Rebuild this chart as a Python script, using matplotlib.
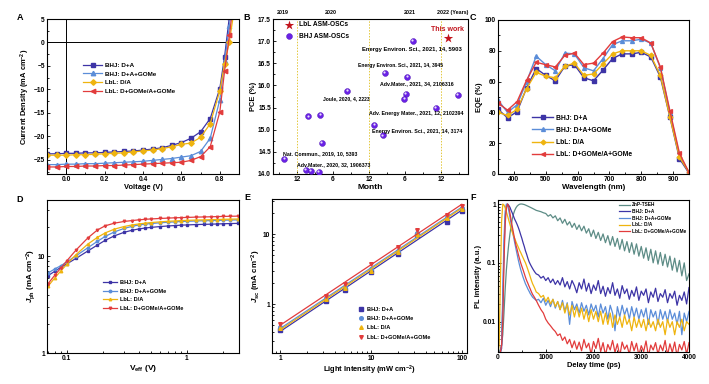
import numpy as np
import matplotlib
matplotlib.use('Agg')
import matplotlib.pyplot as plt
from matplotlib.ticker import MultipleLocator, NullFormatter
import matplotlib.transforms as mtransforms

plt.rcParams['font.family'] = ['Liberation Sans', 'DejaVu Sans']
plt.rcParams['font.weight'] = 'bold'
plt.rcParams['axes.labelweight'] = 'bold'
plt.rcParams['mathtext.fontset'] = 'custom'
plt.rcParams['mathtext.rm'] = 'Liberation Sans:bold'
plt.rcParams['mathtext.it'] = 'Liberation Sans:italic:bold'
plt.rcParams['mathtext.bf'] = 'Liberation Sans:bold'
plt.rcParams['axes.linewidth'] = 0.8

# ---------------- data ----------------
labels4 = ['BHJ: D+A', 'BHJ: D+A+GOMe', 'LbL: D/A', 'LbL: D+GOMe/A+GOMe']
C_PUR, C_BLU, C_YEL, C_RED, C_TEAL = '#3d34a6', '#5b8dd8', '#efb40f', '#e23c3c', '#5d8c86'

# A: J-V
V_A = [-0.10, -0.05, 0.00, 0.05, 0.10, 0.15, 0.20, 0.25, 0.30, 0.35, 0.40, 0.45,
       0.50, 0.55, 0.60, 0.65, 0.70, 0.75, 0.80, 0.825, 0.85, 0.875]
J_bhj = [-23.7, -23.7, -23.6, -23.6, -23.5, -23.5, -23.4, -23.3, -23.2, -23.1, -22.9, -22.7,
         -22.4, -21.9, -21.3, -20.4, -19.0, -16.2, -9.8, -3.0, 5.5, 14.0]
J_bhj_g = [-26.0, -26.0, -25.9, -25.9, -25.8, -25.8, -25.7, -25.6, -25.5, -25.4, -25.3, -25.1,
           -24.9, -24.7, -24.4, -24.1, -23.2, -20.4, -12.2, -4.0, 3.5, 12.0]
J_lbl = [-24.0, -24.0, -24.0, -23.9, -23.9, -23.8, -23.7, -23.6, -23.5, -23.3, -23.1, -22.9,
         -22.6, -22.2, -21.7, -21.4, -20.2, -17.3, -10.3, -4.5, 0.2, 7.0]
J_lbl_g = [-26.5, -26.5, -26.4, -26.4, -26.3, -26.3, -26.2, -26.2, -26.1, -26.0, -25.9, -25.8,
           -25.7, -25.6, -25.5, -25.1, -24.3, -22.2, -14.8, -6.0, 1.5, 10.0]

# B: PCE vs month
month_bhj = [9.9, 13.5, 14.3, 15.6, 13.9, 15.9, 16.1, 20.4, 24.9, 26.3, 26.6, 30.4, 30.1, 29.9, 31.3, 35.2, 38.8]
pce_bhj = [14.34, 14.09, 14.07, 14.04, 15.30, 15.33, 14.70, 15.88, 15.10, 14.87, 16.28, 16.20, 15.80, 15.69, 17.00, 15.50, 15.78]
month_lbl = [37.2]
pce_lbl = [17.08]
refs = ['Energy Environ. Sci., 2021, 14, 5903', 'Energy Environ. Sci., 2021, 14, 3945',
        'Adv.Mater., 2021, 34, 2106316', 'Joule, 2020, 4, 2223',
        'Adv. Energy Mater., 2021, 12, 2102394', 'Energy Environ. Sci., 2021, 14, 3174',
        'Nat. Commun., 2019, 10, 5393', 'Adv.Mater., 2020, 32, 1906373']
ref_month = [31.2, 29.25, 32.05, 20.3, 31.9, 32.05, 15.85, 18.1]
ref_pce = [16.80, 16.44, 16.05, 15.71, 15.37, 14.97, 14.45, 14.21]
ref_size = [4.2, 3.6, 3.8, 3.6, 3.8, 3.8, 3.8, 3.8]
years = ['2019', '2020', '2021', '2022 (Years)']
year_month = [9.7, 17.7, 30.8, 35.4]

# C: EQE
wl = [350, 380, 410, 440, 470, 500, 530, 560, 590, 620, 650, 680, 710, 740, 770, 800, 830, 860, 890, 920, 950]
eqe_bhj = [42, 36.5, 40.5, 56, 68.5, 64, 60.5, 70, 71, 62.5, 60.5, 67.5, 75, 78, 78, 79, 76, 63, 37, 10, 0.5]
eqe_bhj_g = [48, 40, 45, 60, 76.5, 71, 67, 78.5, 78, 69, 67, 75, 84, 86.5, 86.5, 87.5, 85, 69, 40, 12, 1]
eqe_lbl = [40, 38, 42, 55.5, 66, 63.5, 62.5, 70, 72, 64, 65, 71.5, 78, 80, 80, 80, 77, 64, 37, 11, 1]
eqe_lbl_g = [46, 41.5, 47, 61, 72.5, 71, 69.5, 77, 78.5, 71, 72, 78.5, 86, 89, 88.5, 88.5, 85, 69.5, 41, 13.5, 1]

# D: Jph vs Veff
veff = [0.07, 0.08, 0.09, 0.1, 0.12, 0.15, 0.18, 0.21, 0.25, 0.3, 0.35, 0.4, 0.45, 0.5,
        0.6, 0.7, 0.8, 0.9, 1.0, 1.2, 1.4, 1.6, 1.8, 2.0, 2.3, 2.7]
jph_bhj = [6.3, 7.0, 7.7, 8.3, 9.5, 11.3, 13.0, 14.6, 16.2, 17.6, 18.5, 19.1, 19.5, 19.8,
           20.2, 20.5, 20.7, 20.9, 21.0, 21.2, 21.3, 21.4, 21.5, 21.6, 21.7, 21.8]
jph_bhj_g = [6.7, 7.4, 8.0, 8.7, 10.1, 12.2, 14.2, 16.0, 17.8, 19.3, 20.3, 21.0, 21.4, 21.7,
             22.1, 22.4, 22.6, 22.8, 22.9, 23.1, 23.2, 23.3, 23.4, 23.5, 23.6, 23.7]
jph_lbl = [4.9, 6.0, 7.1, 8.2, 10.4, 13.3, 15.6, 17.4, 19.0, 20.2, 21.0, 21.5, 21.9, 22.2,
           22.6, 22.9, 23.1, 23.3, 23.4, 23.6, 23.7, 23.8, 23.9, 24.0, 24.1, 24.2]
jph_lbl_g = [5.2, 6.4, 7.6, 8.9, 11.6, 15.4, 18.6, 20.6, 21.9, 22.8, 23.3, 23.7, 24.0, 24.2,
             24.5, 24.7, 24.9, 25.0, 25.1, 25.3, 25.4, 25.5, 25.6, 25.7, 25.8, 25.9]

# E: Jsc vs light intensity
P_light = [1, 3.2, 5.2, 10, 20, 32, 68, 100]
jsc_bhj = [0.42, 1.12, 1.58, 2.9, 5.2, 9.8, 15.2, 21.8]
jsc_bhj_g = [0.47, 1.22, 1.75, 3.15, 5.7, 10.6, 17.5, 23.8]
jsc_lbl = [0.45, 1.18, 1.68, 3.0, 5.5, 10.2, 17.0, 23.0]
jsc_lbl_g = [0.52, 1.32, 1.92, 3.7, 6.5, 11.6, 18.8, 25.8]

# F: TRPL
t_ps = np.r_[0:801:25, 850:4001:50]
pl_znp = [0.0032, 0.0030, 0.0034, 0.0040, 0.0060, 0.014, 0.035, 0.075,
          0.13, 0.21, 0.31, 0.43, 0.56, 0.68, 0.78, 0.86,
          0.92, 0.96, 0.99, 1.0, 1.0, 0.99, 0.98, 0.96,
          0.94, 0.92, 0.90, 0.88, 0.86, 0.84, 0.82, 0.80, 0.78,
          0.76, 0.74, 0.71, 0.69, 0.62, 0.66, 0.58, 0.63,
          0.52, 0.58, 0.47, 0.55, 0.44, 0.50, 0.40, 0.47,
          0.37, 0.44, 0.35, 0.42, 0.32, 0.38, 0.28, 0.36,
          0.26, 0.33, 0.24, 0.31, 0.22, 0.29, 0.20, 0.28,
          0.19, 0.26, 0.17, 0.25, 0.16, 0.23, 0.15, 0.22,
          0.14, 0.21, 0.13, 0.19, 0.12, 0.18, 0.11, 0.17,
          0.10, 0.16, 0.095, 0.15, 0.09, 0.14, 0.085, 0.13,
          0.075, 0.12, 0.07, 0.11, 0.06, 0.10, 0.05, 0.065]
pl_bhj = [0.003, 0.003, 0.003, 0.0035, 0.02, 0.15, 0.6, 0.92,
          1.0, 0.95, 0.88, 0.78, 0.70, 0.62, 0.55, 0.50,
          0.45, 0.40, 0.35, 0.30, 0.26, 0.22, 0.19, 0.16,
          0.14, 0.12, 0.105, 0.095, 0.087, 0.08, 0.074, 0.069, 0.065,
          0.062, 0.055, 0.059, 0.05, 0.056, 0.046, 0.053, 0.043,
          0.05, 0.042, 0.056, 0.039, 0.048, 0.036, 0.05, 0.041,
          0.031, 0.046, 0.036, 0.053, 0.033, 0.045, 0.03, 0.042,
          0.034, 0.05, 0.03, 0.04, 0.027, 0.038, 0.03, 0.046,
          0.028, 0.036, 0.025, 0.041, 0.03, 0.036, 0.024, 0.034,
          0.027, 0.039, 0.023, 0.033, 0.028, 0.036, 0.021, 0.032,
          0.026, 0.037, 0.022, 0.03, 0.026, 0.035, 0.021, 0.03,
          0.025, 0.033, 0.019, 0.028, 0.023, 0.032, 0.02, 0.038]
pl_bhj_g = [0.003, 0.003, 0.003, 0.004, 0.03, 0.25, 0.75, 1.0,
            0.95, 0.78, 0.6, 0.46, 0.36, 0.28, 0.22, 0.175,
            0.14, 0.112, 0.092, 0.077, 0.066, 0.057, 0.05, 0.044,
            0.04, 0.036, 0.033, 0.03, 0.028, 0.026, 0.025, 0.024, 0.023,
            0.024, 0.021, 0.025, 0.019, 0.023, 0.018, 0.024, 0.017,
            0.022, 0.016, 0.023, 0.015, 0.021, 0.009, 0.022, 0.016,
            0.02, 0.014, 0.021, 0.015, 0.019, 0.013, 0.02, 0.015,
            0.019, 0.012, 0.02, 0.014, 0.018, 0.011, 0.019, 0.014,
            0.007, 0.018, 0.012, 0.019, 0.013, 0.017, 0.011, 0.018,
            0.012, 0.017, 0.011, 0.016, 0.012, 0.017, 0.009, 0.016,
            0.012, 0.015, 0.009, 0.016, 0.011, 0.015, 0.01, 0.016,
            0.011, 0.014, 0.009, 0.015, 0.006, 0.014, 0.01, 0.015]
pl_lbl = [0.003, 0.004, 0.05, 0.5, 1.0, 0.96, 0.86, 0.74,
          0.63, 0.53, 0.45, 0.38, 0.33, 0.29, 0.26, 0.23,
          0.205, 0.185, 0.165, 0.15, 0.135, 0.122, 0.11, 0.1,
          0.088, 0.077, 0.067, 0.058, 0.05, 0.044, 0.04, 0.036, 0.032,
          0.03, 0.026, 0.028, 0.022, 0.026, 0.02, 0.024, 0.018,
          0.022, 0.016, 0.021, 0.014, 0.02, 0.013, 0.019, 0.012,
          0.018, 0.012, 0.017, 0.011, 0.016, 0.01, 0.016, 0.011,
          0.015, 0.01, 0.015, 0.009, 0.014, 0.009, 0.014, 0.008,
          0.013, 0.009, 0.012, 0.008, 0.013, 0.009, 0.011, 0.007,
          0.012, 0.008, 0.011, 0.008, 0.011, 0.007, 0.011, 0.008,
          0.01, 0.007, 0.011, 0.008, 0.01, 0.006, 0.011, 0.008,
          0.01, 0.006, 0.01, 0.008, 0.011, 0.007, 0.01, 0.009]
pl_lbl_g = [0.003, 0.003, 0.003, 0.004, 0.01, 0.1, 0.45, 0.85,
            1.0, 0.9, 0.7, 0.53, 0.41, 0.32, 0.25, 0.2,
            0.17, 0.14, 0.118, 0.1, 0.087, 0.076, 0.066, 0.057,
            0.05, 0.045, 0.04, 0.036, 0.032, 0.029, 0.027, 0.025, 0.023,
            0.019, 0.016, 0.014, 0.011, 0.0095, 0.0085, 0.0075, 0.0068,
            0.0058, 0.0062, 0.0048, 0.0055, 0.0042, 0.005, 0.0036, 0.0047,
            0.0034, 0.0045, 0.0032, 0.005, 0.0036, 0.0043, 0.0028, 0.0046,
            0.0035, 0.0052, 0.0031, 0.0044, 0.0027, 0.0041, 0.0033, 0.0048,
            0.003, 0.0042, 0.0026, 0.0045, 0.0034, 0.004, 0.0028, 0.0046,
            0.0032, 0.0043, 0.0027, 0.0039, 0.0031, 0.0047, 0.0026, 0.004,
            0.0033, 0.0044, 0.0028, 0.004, 0.0032, 0.0048, 0.0027, 0.0042,
            0.003, 0.0045, 0.0026, 0.0041, 0.0033, 0.0046, 0.0028, 0.0044]

# ---------------- figure ----------------
W, H = 709, 384
fig = plt.figure(figsize=(W / 100, H / 100), dpi=100)


def rect(x0, y0, x1, y1):
    return [x0 / W, 1 - y1 / H, (x1 - x0) / W, (y1 - y0) / H]


TICK = 4.8
LAB = 5.4


def style(ax):
    ax.tick_params(which='both', direction='in', labelsize=TICK, width=0.6, pad=1.5)
    ax.tick_params(which='major', length=2.2)
    ax.tick_params(which='minor', length=1.2)
    for s in ax.spines.values():
        s.set_linewidth(0.8)


def leg(ax, **kw):
    base = dict(frameon=False, borderpad=0, borderaxespad=0, prop={'weight': 'bold', 'size': 4.3})
    base.update(kw)
    return ax.legend(**base)


# ---- A ----
axA = fig.add_axes(rect(47, 19, 239, 174))
style(axA)
axA.axhline(0, color='k', lw=0.7)
axA.axvline(0, color='k', lw=0.7)
for J, c, m, ms, lab in [(J_bhj, C_PUR, 's', 3.0, labels4[0]), (J_bhj_g, C_BLU, '^', 3.2, labels4[1]),
                         (J_lbl, C_YEL, 'D', 2.8, labels4[2]), (J_lbl_g, C_RED, '<', 3.2, labels4[3])]:
    axA.plot(V_A, J, color=c, marker=m, ms=ms, lw=0.9, label=lab)
axA.set_xlim(-0.1, 0.9)
axA.set_ylim(-28, 5)
axA.xaxis.set_major_locator(MultipleLocator(0.2))
axA.xaxis.set_minor_locator(MultipleLocator(0.1))
axA.yaxis.set_major_locator(MultipleLocator(5))
axA.yaxis.set_minor_locator(MultipleLocator(2.5))
axA.xaxis.set_major_formatter(plt.FuncFormatter(lambda v, p: f'{v:.1f}'))
axA.set_xlabel('Voltage (V)', fontsize=LAB, labelpad=1)
axA.set_ylabel('Current Density (mA cm$^{-2}$)', fontsize=LAB, labelpad=1)
leg(axA, loc='upper left', bbox_to_anchor=(0.19, 0.72), handlelength=3.0, handletextpad=0.4,
    labelspacing=0.55, prop={'weight': 'bold', 'size': 4.5})

# ---- B ----
axB = fig.add_axes(rect(273, 19, 468, 174))
style(axB)
axB.set_xlim(8, 40.5)
axB.set_ylim(14.0, 17.5)
for mline in [12, 24, 36]:
    axB.axvline(mline, color='#e3c83c', lw=0.7, ls=(0, (1.5, 1.5)))
sc = axB.scatter(month_bhj, pce_bhj, s=18, color='#6a22e6', edgecolor='#4a10b0', linewidth=0.3,
                 zorder=3, label='BHJ ASM-OSCs')
hl = mtransforms.offset_copy(axB.transData, fig=fig, x=-0.6, y=0.6, units='points')
axB.scatter(month_bhj, pce_bhj, s=2.5, color='white', alpha=0.85, linewidth=0, zorder=4, transform=hl)
st = axB.scatter(month_lbl, pce_lbl, s=50, marker='*', color='#c2131c', linewidth=0, zorder=3,
                 label='LbL ASM-OSCs')
axB.text(37.1, 17.27, 'This work', color='#c2131c', fontsize=5.0, fontweight='bold', ha='center', va='center')
for r, mx, py, fs in zip(refs, ref_month, ref_pce, ref_size):
    axB.text(mx, py, r, fontsize=fs, fontweight='bold', ha='center', va='center', clip_on=False)
for y, mx in zip(years, year_month):
    axB.text(mx, 17.58, y, fontsize=3.9, fontweight='bold', ha='center' if 'Years' not in y else 'left',
             va='bottom')
axB.set_xticks([12, 18, 24, 30, 36])
axB.set_xticklabels(['12', '6', '12', '6', '12'])
axB.xaxis.set_minor_locator(MultipleLocator(3))
axB.yaxis.set_major_locator(MultipleLocator(0.5))
axB.yaxis.set_minor_locator(MultipleLocator(0.25))
axB.yaxis.set_major_formatter(plt.FuncFormatter(lambda v, p: f'{v:.1f}'))
axB.set_xlabel('Month', fontsize=LAB + 0.6, labelpad=0.5)
axB.set_ylabel('PCE (%)', fontsize=LAB, labelpad=1)
leg(axB, handles=[st, sc], loc='upper left', bbox_to_anchor=(0.05, 0.985), handletextpad=0.4,
    labelspacing=0.7, prop={'weight': 'bold', 'size': 4.8}, scatterpoints=1)

# ---- C ----
axC = fig.add_axes(rect(498, 20, 689, 174))
style(axC)
for E, c, m, ms, lab in [(eqe_bhj, C_PUR, 's', 2.6, labels4[0]), (eqe_bhj_g, C_BLU, '^', 2.8, labels4[1]),
                         (eqe_lbl, C_YEL, 'D', 2.4, labels4[2]), (eqe_lbl_g, C_RED, '<', 2.8, labels4[3])]:
    axC.plot(wl, E, color=c, marker=m, ms=ms, lw=1.0, label=lab)
axC.set_xlim(350, 950)
axC.set_ylim(0, 100)
axC.xaxis.set_major_locator(MultipleLocator(100))
axC.xaxis.set_minor_locator(MultipleLocator(50))
axC.yaxis.set_major_locator(MultipleLocator(20))
axC.yaxis.set_minor_locator(MultipleLocator(10))
axC.set_xlabel('Wavelength (nm)', fontsize=LAB + 0.3, labelpad=1)
axC.set_ylabel('EQE (%)', fontsize=LAB, labelpad=1)
leg(axC, loc='upper left', bbox_to_anchor=(0.18, 0.385), handlelength=3.0, handletextpad=0.4,
    labelspacing=0.75, prop={'weight': 'bold', 'size': 4.9})

# ---- D ----
axD = fig.add_axes(rect(47, 200, 239, 353))
style(axD)
for Jp, c, m, lab in [(jph_bhj, C_PUR, 's', labels4[0]), (jph_bhj_g, C_BLU, 'o', labels4[1]),
                      (jph_lbl, C_YEL, '^', labels4[2]), (jph_lbl_g, C_RED, 'v', labels4[3])]:
    axD.plot(veff, Jp, color=c, marker=m, ms=1.8, lw=0.9, label=lab)
axD.set_xscale('log')
axD.set_yscale('log')
axD.set_xlim(0.0686, 2.73)
axD.set_ylim(1, 38)
axD.set_xticks([0.1, 1])
axD.set_xticklabels(['0.1', '1'])
axD.set_yticks([1, 10])
axD.set_yticklabels(['1', '10'])
axD.xaxis.set_minor_formatter(NullFormatter())
axD.yaxis.set_minor_formatter(NullFormatter())
axD.set_xlabel(r'V$_{\rm eff}$ (V)', fontsize=LAB + 0.6, labelpad=1)
axD.set_ylabel(r'$J_{\rm ph}$ (mA cm$^{-2}$)', fontsize=LAB + 0.4, labelpad=0)
leg(axD, loc='upper left', bbox_to_anchor=(0.29, 0.475), handlelength=2.5, handletextpad=0.5,
    labelspacing=0.6, prop={'weight': 'bold', 'size': 4.1})

# ---- E ----
axE = fig.add_axes(rect(272, 199, 467, 353))
style(axE)
xfit = np.array([P_light[0], P_light[-1]])
for Js, c, m, lab in [(jsc_bhj, C_PUR, 's', labels4[0]), (jsc_bhj_g, C_BLU, 'o', labels4[1]),
                      (jsc_lbl, C_YEL, '^', labels4[2]), (jsc_lbl_g, C_RED, 'v', labels4[3])]:
    k, b = np.polyfit(np.log10(P_light), np.log10(Js), 1)
    axE.plot(xfit, 10 ** (b + k * np.log10(xfit)), color=c, lw=0.9)
    axE.plot(P_light, Js, ls='none', marker=m, ms=2.6, color=c, label=lab)
axE.set_xscale('log')
axE.set_yscale('log')
axE.set_xlim(0.817, 114)
axE.set_ylim(0.2, 32)
axE.set_xticks([1, 10, 100])
axE.set_xticklabels(['1', '10', '100'])
axE.set_yticks([1, 10])
axE.set_yticklabels(['1', '10'])
axE.xaxis.set_minor_formatter(NullFormatter())
axE.yaxis.set_minor_formatter(NullFormatter())
axE.set_xlabel('Light Intensity (mW cm$^{-2}$)', fontsize=LAB, labelpad=1)
axE.set_ylabel(r'$J_{\rm sc}$ (mA cm$^{-2}$)', fontsize=LAB + 0.4, labelpad=0)
leg(axE, loc='upper left', bbox_to_anchor=(0.44, 0.3), handlelength=1.0, handletextpad=0.6,
    labelspacing=0.75, prop={'weight': 'bold', 'size': 4.1})

# ---- F ----
axF = fig.add_axes(rect(498, 200, 689, 352))
style(axF)
for P, c, lab in [(pl_znp, C_TEAL, 'ZnP-TSEH'), (pl_bhj, C_PUR, labels4[0]), (pl_bhj_g, C_BLU, labels4[1]),
                  (pl_lbl, C_YEL, labels4[2]), (pl_lbl_g, C_RED, labels4[3])]:
    axF.plot(t_ps, P, color=c, lw=0.9, label=lab)
axF.set_yscale('log')
axF.set_xlim(0, 4000)
axF.set_ylim(0.00305, 1.17)
axF.xaxis.set_major_locator(MultipleLocator(1000))
axF.xaxis.set_minor_locator(MultipleLocator(500))
axF.set_yticks([0.01, 0.1, 1])
axF.set_yticklabels(['0.01', '0.1', '1'])
axF.yaxis.set_minor_formatter(NullFormatter())
axF.set_xlabel('Delay time (ps)', fontsize=LAB, labelpad=1)
axF.set_ylabel('PL intensity (a.u.)', fontsize=LAB, labelpad=1)
leg(axF, loc='upper right', bbox_to_anchor=(0.985, 0.985), handlelength=2.2, handletextpad=0.5,
    labelspacing=0.35, prop={'weight': 'bold', 'size': 3.4})

# panel letters
for ch, x, y in [('A', 20, 17), ('B', 247, 17), ('C', 473, 17), ('D', 20, 200), ('E', 247, 197), ('F', 473, 197)]:
    fig.text(x / W, 1 - y / H, ch, fontsize=6.5, fontweight='bold', ha='center', va='center')

fig.savefig('out.png', dpi=100, facecolor='white')
